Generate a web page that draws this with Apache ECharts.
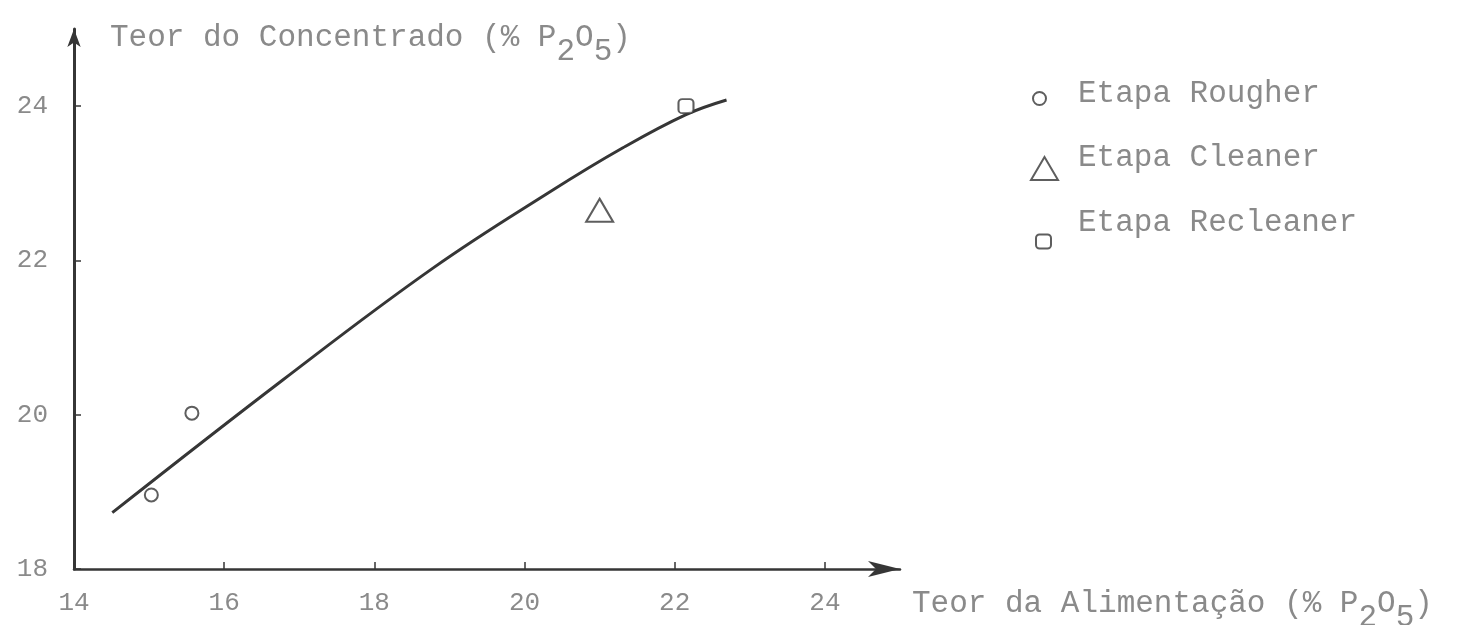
<!DOCTYPE html>
<html>
<head>
<meta charset="utf-8">
<script src="https://cdn.jsdelivr.net/npm/echarts@6/dist/echarts.min.js"></script>
<style>
  html, body { margin: 0; padding: 0; background: #fff; }
  #chart { width: 1458px; height: 625px; }
</style>
</head>
<body>
<div id="chart"></div>
<script>
// Feed grade (x) vs concentrate grade (y), both in % P2O5
const xTicks = [14, 16, 18, 20, 22, 24];
const yTicks = [18, 20, 22, 24];

const seriesNames = ['Etapa Rougher', 'Etapa Cleaner', 'Etapa Recleaner'];
const rougherPts = [[15.03, 18.96], [15.57, 20.02]];
const cleanerPts = [[21.0, 22.65]];
const recleanerPts = [[22.15, 24.0]];

// hand-fitted trend curve through the stages
const trendPts = [
  [14.51, 18.73], [16.78, 20.45], [18.78, 21.90], [20.34, 22.89],
  [21.31, 23.46], [22.15, 23.89], [22.69, 24.08]
];

const FONT = '"Liberation Mono", "DejaVu Sans Mono", monospace';
const TXT = '#8a8a8a';
const INK = '#363636';

const chart = echarts.init(document.getElementById('chart'), null, { renderer: 'canvas' });

// axis titles with lowered subscripts
const subRich = {
  sub: { fontFamily: FONT, fontSize: 31, fill: TXT, padding: [28, 0, 0, 0] },
  n: { fontFamily: FONT, fontSize: 31, fill: TXT }
};

function legendBlock(name, left, top, w, h, padLeft, padBottom) {
  return {
    data: [name],
    orient: 'vertical',
    left: left,
    top: top,
    padding: 0,
    itemWidth: w,
    itemHeight: h,
    selectedMode: false,
    formatter: '{t|{name}}',
    textStyle: {
      rich: {
        t: {
          fontFamily: FONT, fontSize: 31, color: TXT, lineHeight: 34,
          padding: [0, 0, padBottom, padLeft]
        }
      }
    }
  };
}

const hollow = { color: '#fff', borderColor: INK, borderWidth: 2 };

chart.setOption({
  animation: false,
  backgroundColor: '#fff',
  grid: { left: 74, right: 558, top: 29, bottom: 56 },
  xAxis: {
    type: 'value', min: 14, max: 25,
    axisLine: { show: true, symbol: ['none', 'arrow'], symbolSize: [12, 32],
      lineStyle: { color: INK, width: 2.5 } },
    axisTick: { show: true, inside: true, length: 7, customValues: xTicks,
      lineStyle: { color: INK, width: 1.5 } },
    axisLabel: { customValues: xTicks, margin: 21, fontFamily: FONT, fontSize: 26, color: TXT },
    splitLine: { show: false }
  },
  yAxis: {
    type: 'value', min: 18, max: 25,
    axisLine: { show: true, symbol: ['none', 'arrow'], symbolSize: [10, 18],
      lineStyle: { color: INK, width: 3 } },
    axisTick: { show: true, inside: true, length: 7, customValues: yTicks,
      lineStyle: { color: INK, width: 1.5 } },
    axisLabel: { customValues: yTicks, margin: 26, fontFamily: FONT, fontSize: 26, color: TXT },
    splitLine: { show: false }
  },
  legend: [
    legendBlock(seriesNames[0], 1032, 78, 13, 13, 27, 10),
    legendBlock(seriesNames[1], 1030, 142, 27, 23, 15, 22),
    legendBlock(seriesNames[2], 1035, 207, 15, 14, 22, 38)
  ],
  graphic: [
    {
      type: 'text', left: 110, top: 22,
      style: {
        text: '{n|Teor do Concentrado (% P}{sub|2}{n|O}{sub|5}{n|)}',
        fill: TXT,
        rich: subRich
      }
    },
    {
      type: 'text', left: 912, top: 588,
      style: {
        text: '{n|Teor da Alimentação (% P}{sub|2}{n|O}{sub|5}{n|)}',
        fill: TXT,
        rich: subRich
      }
    }
  ],
  series: [
    {
      name: 'trend', type: 'line', data: trendPts, smooth: 0.4,
      showSymbol: false, symbol: 'none', z: 1,
      lineStyle: { color: INK, width: 3 }
    },
    {
      name: seriesNames[0], type: 'scatter', data: rougherPts,
      symbol: 'circle', symbolSize: 13, itemStyle: hollow, z: 3
    },
    {
      name: seriesNames[1], type: 'scatter', data: cleanerPts,
      symbol: 'triangle', symbolSize: [27, 23], itemStyle: hollow, z: 3
    },
    {
      name: seriesNames[2], type: 'scatter', data: recleanerPts,
      symbol: 'roundRect', symbolSize: [15, 14], itemStyle: hollow, z: 3
    }
  ]
});
</script>
</body>
</html>
